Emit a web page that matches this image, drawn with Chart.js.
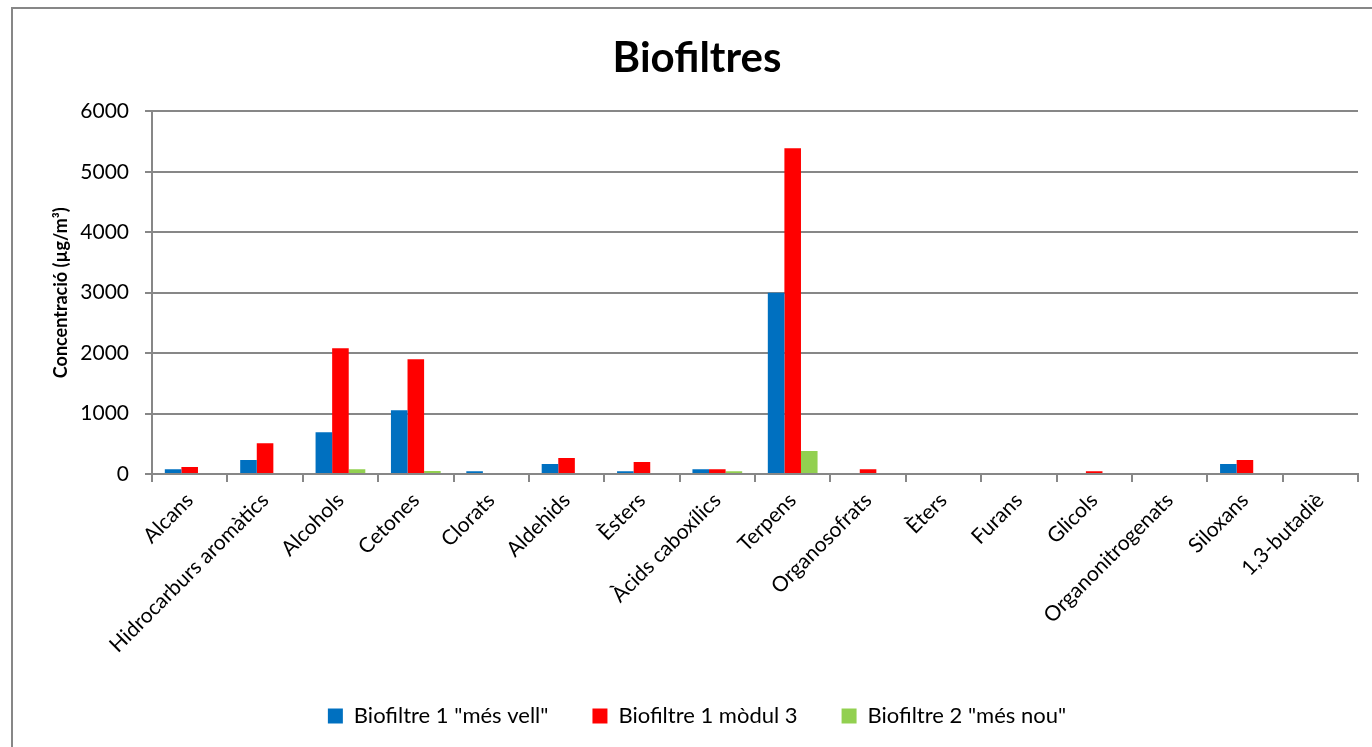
<!DOCTYPE html>
<html>
<head>
<meta charset="utf-8">
<script src="https://cdn.jsdelivr.net/npm/chart.js@4"></script>
<style>
  html, body { margin: 0; padding: 0; background: #ffffff; }
  #wrap { width: 1372px; height: 747px; position: relative; }
</style>
</head>
<body>
<div id="wrap"><canvas id="c" width="1372" height="747"></canvas></div>
<script>
const categories = ["Alcans", "Hidrocarburs aromàtics", "Alcohols", "Cetones", "Clorats", "Aldehids", "Èsters", "Àcids caboxílics", "Terpens", "Organosofrats", "Èters", "Furans", "Glicols", "Organonitrogenats", "Siloxans", "1,3-butadiè"];
const seriesNames = ['Biofiltre 1 "més vell"', 'Biofiltre 1 mòdul 3', 'Biofiltre 2 "més nou"'];
const biofiltre1Vell = [80, 230, 690, 1055, 45, 165, 45, 80, 3000, 0, 0, 0, 0, 0, 165, 0];
const biofiltre1Modul3 = [115, 510, 2080, 1900, 0, 265, 200, 80, 5390, 80, 0, 0, 45, 0, 230, 0];
const biofiltre2Nou = [0, 0, 80, 50, 0, 0, 0, 45, 380, 0, 0, 0, 0, 0, 0, 0];
const yTicks = [0, 1000, 2000, 3000, 4000, 5000, 6000];
const yTickLabels = ["0", "1000", "2000", "3000", "4000", "5000", "6000"];
const colors = ["#0070C0", "#FF0000", "#92D050"];

const FONT = "Lato, 'Open Sans', 'DejaVu Sans', sans-serif";
const AXIS = "#878787";

const frame = {
  id: 'frame',
  afterDraw(chart) {
    const ctx = chart.ctx;
    ctx.save();
    ctx.strokeStyle = AXIS;
    ctx.lineWidth = 2;
    ctx.beginPath();
    ctx.moveTo(12, 747);
    ctx.lineTo(12, 8);
    ctx.lineTo(1372, 8);
    ctx.stroke();
    ctx.restore();
  }
};

new Chart(document.getElementById('c'), {
  type: 'bar',
  data: {
    labels: categories,
    datasets: [
      { label: seriesNames[0], data: biofiltre1Vell, backgroundColor: colors[0] },
      { label: seriesNames[1], data: biofiltre1Modul3, backgroundColor: colors[1] },
      { label: seriesNames[2], data: biofiltre2Nou, backgroundColor: colors[2] }
    ]
  },
  options: {
    responsive: false,
    animation: false,
    devicePixelRatio: 1,
    layout: { padding: { left: 36, right: 14, top: 0, bottom: 10 } },
    datasets: { bar: { categoryPercentage: 0.66, barPercentage: 1.0 } },
    plugins: {
      title: {
        display: true,
        text: 'Biofiltres',
        color: '#000',
        font: { family: FONT, size: 42, weight: 'bold' },
        padding: { top: 33, bottom: 28 }
      },
      legend: {
        position: 'bottom',
        labels: {
          color: '#000',
          boxWidth: 15,
          boxHeight: 15,
          padding: 44,
          font: { family: FONT, size: 22 }
        }
      },
      tooltip: { enabled: false }
    },
    scales: {
      x: {
        offset: true,
        grid: { display: true, drawOnChartArea: false, offset: true, color: AXIS, lineWidth: 2, tickLength: 8 },
        border: { display: true, color: AXIS, width: 2 },
        ticks: {
          color: '#000',
          font: { family: FONT, size: 21 },
          maxRotation: 45, minRotation: 45, autoSkip: false, padding: 6
        },
        afterFit(scale) { scale.height = 187; }
      },
      y: {
        min: 0, max: 6000,
        afterBuildTicks(scale) { scale.ticks = yTicks.map(v => ({ value: v })); },
        grid: { color: AXIS, lineWidth: 2, tickLength: 7 },
        border: { display: true, color: AXIS, width: 2 },
        ticks: {
          color: '#000',
          font: { family: FONT, size: 21 },
          padding: 16,
          callback: (v, i) => yTickLabels[yTicks.indexOf(v)]
        },
        title: {
          display: true,
          text: 'Concentració (µg/m³)',
          color: '#000',
          font: { family: FONT, size: 18, weight: 'bold' },
          padding: { top: 14, bottom: 0 }
        },
        afterFit(scale) { scale.width = 116; }
      }
    }
  },
  plugins: [frame]
});
</script>
</body>
</html>
